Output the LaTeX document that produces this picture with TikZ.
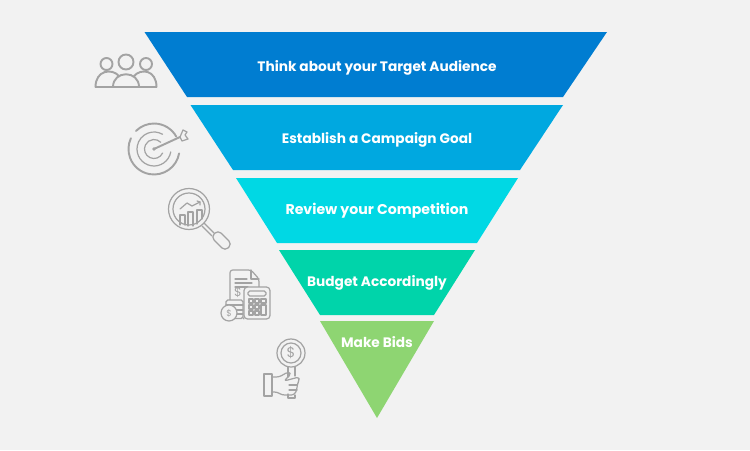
\documentclass[tikz,border=0pt]{standalone}
\usepackage{fontspec}
\setmainfont{Poppins}
\definecolor{pagegray}{HTML}{F2F2F2}
\definecolor{icongray}{HTML}{A3A3A3}
\definecolor{stepone}{HTML}{007DD1}
\definecolor{steptwo}{HTML}{00A8E0}
\definecolor{stepthree}{HTML}{00D8E4}
\definecolor{stepfour}{HTML}{00D4AA}
\definecolor{stepfive}{HTML}{8ED572}
\tikzset{
    steplabel/.style={text=white, font=\fontsize{7.8pt}{10pt}\selectfont\bfseries},
    icon/.style={draw=icongray, line width=0.7pt, line join=round, line cap=round},
    iconbold/.style={icon, line width=1.1pt},
    dollar/.style={text=icongray, inner sep=0pt}
}
\begin{document}
\begin{tikzpicture}[x=0.02cm, y=-0.02cm]
    \fill[pagegray] (0,0) rectangle (750,450);
    \useasboundingbox (0,0) rectangle (750,450);

    % funnel
    \fill[stepone] (144.5,32) -- (607,32) -- (563,97) -- (187,97) -- cycle;
    \fill[steptwo] (190.5,105) -- (563,105) -- (520,170) -- (233,170) -- cycle;
    \fill[stepthree] (236,178) -- (518,178) -- (477,243) -- (277,243) -- cycle;
    \fill[stepfour] (279,250) -- (475,250) -- (434,315) -- (320,315) -- cycle;
    \fill[stepfive] (320,321) -- (434,321) -- (377,418) -- cycle;

    \node[steplabel] (audience) at (377,67.5) {Think about your Target Audience};
    \node[steplabel] (goal) at (377,139.5) {Establish a Campaign Goal};
    \node[steplabel, font=\fontsize{8.05pt}{10pt}\selectfont\bfseries] (competition) at (377,210.5) {Review your Competition};
    \node[steplabel] (budget) at (377,282.5) {Budget Accordingly};
    \node[steplabel] (bids) at (377,342.5) {Make Bids};

    % people
    \draw[iconbold] (106.5,64) circle (6);
    \draw[iconbold] (126,62) circle (7.5);
    \draw[iconbold] (146,64) circle (6);
    \draw[iconbold] (95.5,87) -- (156.5,87);
    \draw[iconbold] (95.5,87) .. controls (95.5,70) and (112,68) .. (119,76);
    \draw[iconbold] (113,87) .. controls (113,70) and (139,70) .. (139,87);
    \draw[iconbold] (134,76) .. controls (141,68) and (156.5,70) .. (156.5,87);

    % target
    \coordinate (target) at (154,149);
    \draw[iconbold] ([shift={(-29:25.5)}]target) arc (-29:-135:25.5);
    \draw[iconbold] ([shift={(10:25.5)}]target) arc (10:205:25.5);
    \draw[icon] ([shift={(10:17)}]target) arc (10:300:17);
    \draw[icon] ([shift={(25:9.5)}]target) arc (25:315:9.5);
    \draw[iconbold] (target) -- (180,137);
    \fill[icongray] (target) circle (1.8);
    \draw[icon] (180,137) -- (183,130) -- (187,132) -- (185,135) -- (188,139) -- (182,141) -- cycle;

    % magnifier with chart
    \draw[icon] (189,209) circle (20.5);
    \draw[icon] (189,209) circle (16);
    \draw[icon] (180,225) -- (180,215) -- (185,215) -- (185,225);
    \draw[icon] (188,226) -- (188,212) -- (193,212) -- (193,226);
    \draw[icon] (197,224) -- (197,210) -- (202,210) -- (202,219);
    \draw[icon] (180,209) -- (187,203) -- (192,206) -- (200,202);
    \draw[icon] (197,201) -- (200,202) -- (200,205);
    \draw[icon] (204,223) -- (214,233);
    \draw[icon] (202,226) -- (212,236);
    \draw[icon, rounded corners=2.5pt] (218,230) -- (232,244) -- (225,251) -- (211,237) -- cycle;

    % bill and calculator
    \draw[icon, rounded corners=1.5pt] (244,319) -- (230,303) -- (230,270) -- (251,270) -- (259,279) -- (259,287);
    \draw[icon] (251,270) -- (251,279) -- (259,279);
    \draw[icon] (235,279) -- (247,279);
    \draw[icon] (235,283) -- (252,283);
    \draw[icon] (235,287) -- (248,287);
    \node[dollar, font=\fontsize{7pt}{8pt}\selectfont] (billsign) at (238,292) {\$};
    \draw[icon, rounded corners=2pt, fill=pagegray] (244,287) rectangle (270,319);
    \draw[icon, rounded corners=1pt] (248,291) rectangle (266,296);
    \draw[icon] (249,299) rectangle (253,303);
    \draw[icon] (255,299) rectangle (259,303);
    \draw[icon] (261,299) rectangle (266,303);
    \draw[icon] (249,305) rectangle (253,309);
    \draw[icon] (255,305) rectangle (259,309);
    \draw[icon] (249,311) rectangle (253,315);
    \draw[icon] (255,311) rectangle (259,315);
    \draw[icon] (261,305) rectangle (266,315);

    % coins
    \draw[icon, fill=pagegray, rounded corners=1pt] (226,300) rectangle (243,318.5);
    \draw[icon] (226,305) -- (243,305);
    \draw[icon] (226,310) -- (243,310);
    \draw[icon] (226,314) -- (243,314);
    \draw[icon, fill=pagegray] (229,313) circle (8);
    \node[dollar, font=\fontsize{5pt}{5pt}\selectfont] (coinsign) at (229,313) {\$};

    % hand with magnifier
    \draw[icon] (291,353) circle (14);
    \draw[icon] (291,353) circle (10);
    \node[dollar, font=\fontsize{8pt}{9pt}\selectfont] (lenssign) at (291,353) {\$};
    \draw[icon] (288,367) -- (288,377);
    \draw[icon] (295,367) -- (295,376);
    \draw[icon] (288,394) -- (288,398) -- (295,398) -- (295,395);
    \draw[icon] (264,374) -- (272,374) -- (272,396) -- (264,396) -- cycle;
    \draw[icon, rounded corners=1.5pt] (272,377) -- (279,377) -- (288,372) -- (291,374) -- (284,381) -- (299,377) -- (299,381) -- (297,385) -- (297,390) -- (294,395) -- (282,395) -- (277,392) -- (272,392);
    \draw[icon] (289,385) -- (297,385);
    \draw[icon] (289,390) -- (297,390);
\end{tikzpicture}
\end{document}
